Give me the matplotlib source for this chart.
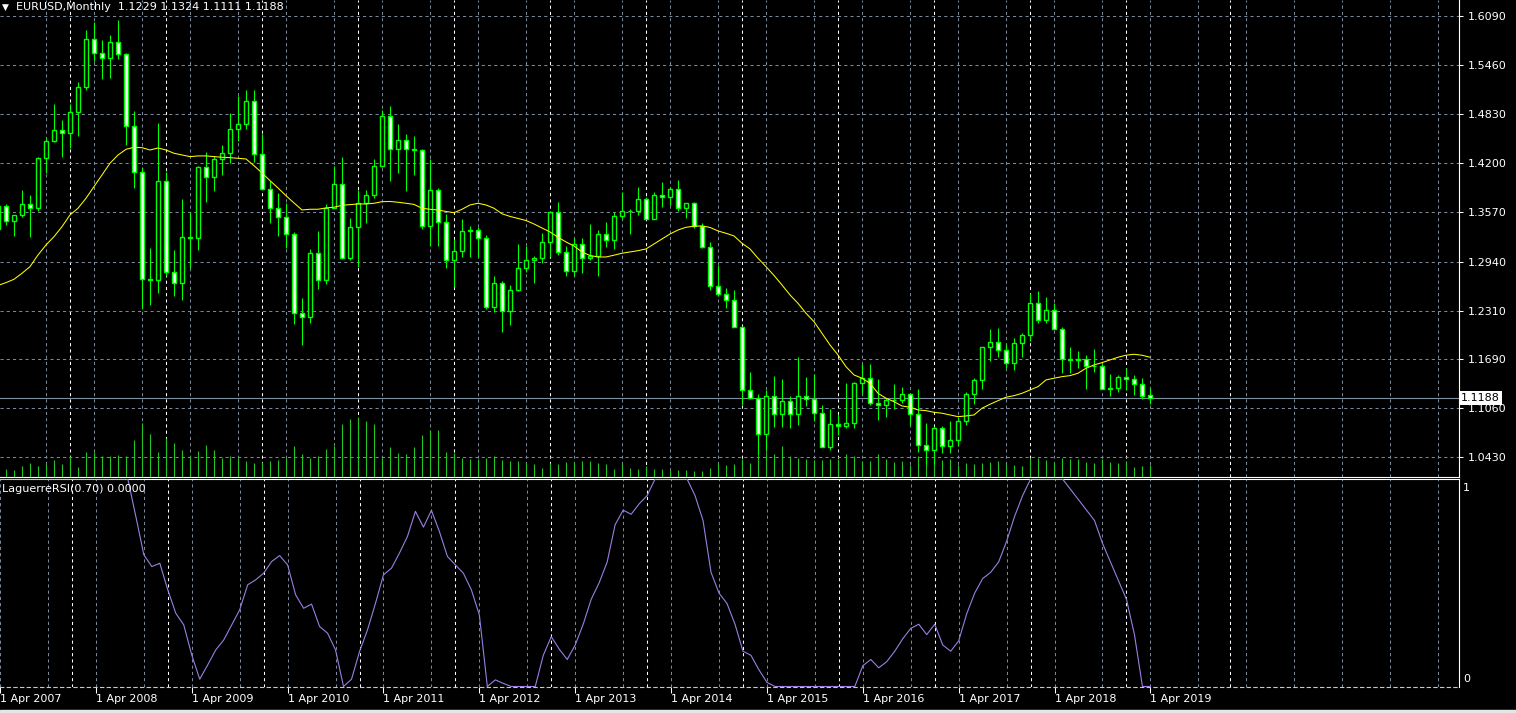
import matplotlib
matplotlib.use("Agg")
import matplotlib.pyplot as plt
from matplotlib.patches import Rectangle

# EURUSD monthly bars, Apr 2007 .. Apr 2019
opens = [1.3355, 1.3650, 1.3455, 1.3540, 1.3680, 1.3630, 1.4265, 1.4490, 1.4630,
         1.4590, 1.4860, 1.5180, 1.5790, 1.5620, 1.5550, 1.5760, 1.5600, 1.4680, 1.4090, 1.2720, 1.2700,
         1.3970, 1.2800, 1.2670, 1.3250, 1.3240, 1.4150, 1.4030, 1.4250, 1.4330, 1.4640, 1.4710, 1.5000,
         1.4320, 1.3870, 1.3630, 1.3510, 1.3290, 1.2280, 1.2230, 1.3050, 1.2700, 1.3630, 1.3930, 1.2990,
         1.3380, 1.3690, 1.3800, 1.4160, 1.4810, 1.4390, 1.4500, 1.4390, 1.4370, 1.3390, 1.3860, 1.3450,
         1.2960, 1.3080, 1.3330, 1.3340, 1.3240, 1.2360, 1.2660, 1.2300, 1.2580, 1.2860, 1.2960, 1.2990,
         1.3190, 1.3580, 1.3060, 1.2820, 1.3170, 1.2990, 1.3010, 1.3300, 1.3220, 1.3520, 1.3590, 1.3590,
         1.3740, 1.3490, 1.3800, 1.3770, 1.3870, 1.3630, 1.3690, 1.3390, 1.3130, 1.2630, 1.2520, 1.2450,
         1.2100, 1.1290, 1.1190, 1.0730, 1.1220, 1.0980, 1.1150, 1.0980, 1.1210, 1.1180, 1.1000, 1.0560,
         1.0860, 1.0830, 1.0870, 1.1380, 1.1450, 1.1130, 1.1100, 1.1170, 1.1160, 1.1240, 1.0980, 1.0590,
         1.0520, 1.0800, 1.0580, 1.0650, 1.0900, 1.1240, 1.1420, 1.1840, 1.1910, 1.1810, 1.1640, 1.1900,
         1.2000, 1.2410, 1.2190, 1.2320, 1.2080, 1.1690, 1.1680, 1.1690, 1.1600, 1.1600, 1.1310, 1.1320,
         1.1460, 1.1440, 1.1370, 1.1229]
highs = [1.3682, 1.3680, 1.3532, 1.3852, 1.3800, 1.4282, 1.4520, 1.4967, 1.4750,
         1.4966, 1.5240, 1.5905, 1.6018, 1.5785, 1.5844, 1.6038, 1.5620, 1.4867, 1.4150, 1.3110, 1.4720,
         1.4090, 1.3090, 1.3740, 1.3580, 1.4170, 1.4340, 1.4300, 1.4440, 1.4840, 1.5065, 1.5145, 1.5140,
         1.4580, 1.3970, 1.3820, 1.3690, 1.3320, 1.2470, 1.3100, 1.3335, 1.3680, 1.4160, 1.4280, 1.3500,
         1.3860, 1.3860, 1.4250, 1.4880, 1.4940, 1.4700, 1.4580, 1.4550, 1.4390, 1.4250, 1.3880, 1.3550,
         1.3230, 1.3490, 1.3390, 1.3380, 1.3280, 1.2750, 1.2690, 1.2640, 1.3170, 1.3140, 1.3010, 1.3310,
         1.3590, 1.3710, 1.3140, 1.3240, 1.3240, 1.3420, 1.3350, 1.3450, 1.3570, 1.3830, 1.3620, 1.3900,
         1.3770, 1.3830, 1.3960, 1.3900, 1.3990, 1.3680, 1.3700, 1.3440, 1.3190, 1.2890, 1.2600, 1.2570,
         1.2110, 1.1530, 1.1240, 1.1290, 1.1470, 1.1430, 1.1210, 1.1710, 1.1460, 1.1500, 1.1100, 1.1050,
         1.0990, 1.1380, 1.1400, 1.1620, 1.1620, 1.1430, 1.1190, 1.1370, 1.1330, 1.1260, 1.1300, 1.0870,
         1.0830, 1.0830, 1.0900, 1.0950, 1.1270, 1.1450, 1.1840, 1.2070, 1.2090, 1.1880, 1.1960, 1.2030,
         1.2540, 1.2560, 1.2480, 1.2410, 1.2100, 1.1850, 1.1790, 1.1740, 1.1820, 1.1620, 1.1500, 1.1480,
         1.1570, 1.1490, 1.1450, 1.1324]
lows = [1.3340, 1.3415, 1.3267, 1.3515, 1.3260, 1.3585, 1.4070, 1.4475, 1.4275,
        1.4400, 1.4555, 1.5145, 1.5510, 1.5285, 1.5300, 1.5535, 1.4430, 1.3880, 1.2330, 1.2385, 1.2540,
        1.2750, 1.2503, 1.2448, 1.2854, 1.3090, 1.3710, 1.3850, 1.4050, 1.4200, 1.4490, 1.4640, 1.4220,
        1.3860, 1.3440, 1.3270, 1.3110, 1.2140, 1.1875, 1.2150, 1.2590, 1.2650, 1.3630, 1.2970, 1.2960,
        1.2870, 1.3440, 1.3750, 1.4150, 1.3970, 1.4070, 1.3840, 1.4050, 1.3360, 1.3140, 1.3140, 1.2860,
        1.2620, 1.3000, 1.3000, 1.2995, 1.2330, 1.2290, 1.2040, 1.2130, 1.2560, 1.2800, 1.2660, 1.2920,
        1.3000, 1.3020, 1.2750, 1.2750, 1.2790, 1.2960, 1.2750, 1.3130, 1.3100, 1.3480, 1.3300, 1.3540,
        1.3480, 1.3480, 1.3640, 1.3670, 1.3590, 1.3500, 1.3370, 1.3120, 1.2570, 1.2500, 1.2350, 1.2100,
        1.1100, 1.1180, 1.0460, 1.0520, 1.0820, 1.0820, 1.0800, 1.0850, 1.1090, 1.0900, 1.0560, 1.0520,
        1.0710, 1.0810, 1.0810, 1.1240, 1.1100, 1.0910, 1.0950, 1.1050, 1.1120, 1.0850, 1.0500, 1.0350,
        1.0340, 1.0490, 1.0490, 1.0570, 1.0840, 1.1110, 1.1310, 1.1660, 1.1720, 1.1570, 1.1550, 1.1720,
        1.1920, 1.2150, 1.2150, 1.2070, 1.1510, 1.1510, 1.1580, 1.1300, 1.1530, 1.1300, 1.1210, 1.1270,
        1.1290, 1.1230, 1.1180, 1.1111]
closes = [1.3650, 1.3455, 1.3540, 1.3680, 1.3630, 1.4265, 1.4490, 1.4630, 1.4590,
          1.4860, 1.5180, 1.5790, 1.5620, 1.5550, 1.5760, 1.5600, 1.4680, 1.4090, 1.2720, 1.2700, 1.3970,
          1.2800, 1.2670, 1.3250, 1.3240, 1.4150, 1.4030, 1.4250, 1.4330, 1.4640, 1.4710, 1.5000, 1.4320,
          1.3870, 1.3630, 1.3510, 1.3290, 1.2280, 1.2230, 1.3050, 1.2700, 1.3630, 1.3930, 1.2990, 1.3380,
          1.3690, 1.3800, 1.4160, 1.4810, 1.4390, 1.4500, 1.4390, 1.4370, 1.3390, 1.3860, 1.3450, 1.2960,
          1.3080, 1.3330, 1.3340, 1.3240, 1.2360, 1.2660, 1.2300, 1.2580, 1.2860, 1.2960, 1.2990, 1.3190,
          1.3580, 1.3060, 1.2820, 1.3170, 1.2990, 1.3010, 1.3300, 1.3220, 1.3520, 1.3590, 1.3590, 1.3740,
          1.3490, 1.3800, 1.3770, 1.3870, 1.3630, 1.3690, 1.3390, 1.3130, 1.2630, 1.2520, 1.2450, 1.2100,
          1.1290, 1.1190, 1.0730, 1.1220, 1.0980, 1.1150, 1.0980, 1.1210, 1.1180, 1.1000, 1.0560, 1.0860,
          1.0830, 1.0870, 1.1380, 1.1450, 1.1130, 1.1100, 1.1170, 1.1160, 1.1240, 1.0980, 1.0590, 1.0520,
          1.0800, 1.0580, 1.0650, 1.0900, 1.1240, 1.1420, 1.1840, 1.1910, 1.1810, 1.1640, 1.1900, 1.2000,
          1.2410, 1.2190, 1.2320, 1.2080, 1.1690, 1.1680, 1.1690, 1.1600, 1.1600, 1.1310, 1.1320, 1.1460,
          1.1440, 1.1370, 1.1220, 1.1188]
# yellow moving average as drawn on the chart
ma = [1.2634, 1.2670, 1.2713, 1.2790, 1.2875, 1.3025, 1.3153, 1.3260, 1.3388,
      1.3538, 1.3624, 1.3752, 1.3901, 1.4051, 1.4201, 1.4307, 1.4380, 1.4406, 1.4401, 1.4371, 1.4397,
      1.4371, 1.4329, 1.4307, 1.4286, 1.4295, 1.4295, 1.4286, 1.4278, 1.4273, 1.4265, 1.4256, 1.4170,
      1.4077, 1.3978, 1.3884, 1.3785, 1.3692, 1.3602, 1.3611, 1.3611, 1.3628, 1.3637, 1.3662, 1.3670,
      1.3679, 1.3679, 1.3688, 1.3708, 1.3711, 1.3701, 1.3688, 1.3673, 1.3624, 1.3611, 1.3602, 1.3583,
      1.3567, 1.3611, 1.3666, 1.3688, 1.3666, 1.3624, 1.3553, 1.3519, 1.3493, 1.3467, 1.3422, 1.3371,
      1.3320, 1.3252, 1.3192, 1.3140, 1.3063, 1.3018, 1.2999, 1.2999, 1.3022, 1.3047, 1.3063, 1.3080,
      1.3102, 1.3166, 1.3230, 1.3294, 1.3345, 1.3380, 1.3393, 1.3397, 1.3378, 1.3333, 1.3303, 1.3269,
      1.3175, 1.3102, 1.2983, 1.2875, 1.2762, 1.2640, 1.2512, 1.2405, 1.2277, 1.2169, 1.2021, 1.1871,
      1.1742, 1.1592, 1.1486, 1.1444, 1.1379, 1.1251, 1.1187, 1.1143, 1.1088, 1.1072, 1.1037, 1.1028,
      1.1007, 1.0995, 1.0973, 1.0951, 1.0960, 1.0973, 1.1059, 1.1110, 1.1156, 1.1200, 1.1220, 1.1251,
      1.1293, 1.1336, 1.1422, 1.1444, 1.1464, 1.1477, 1.1508, 1.1572, 1.1614, 1.1644, 1.1678, 1.1713,
      1.1739, 1.1751, 1.1739, 1.1713]
# tick volume (relative)
volume = [8, 8.3, 7.3, 10.7, 14.3, 10.7, 12.7, 16.7, 12.7,
          20.7, 10, 24.7, 24.7, 20.7, 20.7, 21.7, 20.7, 36.7, 54.3, 42.7, 24.7,
          39.3, 34.3, 26.7, 20.7, 26, 31.7, 26.7, 19, 20.7, 19, 15.7, 14,
          15, 15.7, 16.7, 19, 30.7, 22.7, 19, 20.7, 27.7, 30.7, 52.7, 58.3,
          60, 55.7, 52.7, 19, 29.7, 24, 22.7, 30, 41.7, 46.7, 46.7, 25,
          24, 19.3, 18.3, 18.3, 19.3, 20.7, 16.7, 15.7, 15.7, 14, 12.7, 9,
          14, 12.7, 15, 15, 15.7, 15.7, 14.3, 13.3, 8.3, 12.7, 9.3, 8.3,
          11, 7.7, 8.3, 6.7, 6.7, 6.7, 5.7, 5.7, 9, 14.3, 11.7, 12.7,
          18.3, 14.3, 22, 25, 23.3, 30.7, 20.7, 19, 18.3, 16.7, 16.7, 17.7,
          18.3, 22.7, 20.7, 15.7, 15.7, 23.3, 18.3, 15, 15.7, 12.3, 20.7, 16,
          20.7, 16.7, 17.7, 12.3, 14, 12.7, 14, 15, 15.7, 12.7, 11.7, 10.7,
          19, 19, 16.7, 15, 19, 17.7, 17.7, 15, 14, 17.7, 15, 14,
          15.7, 10, 11, 11.7]
# LaguerreRSI(0.70)
lrsi = [1.0, 1.0, 1.0, 1.0, 1.0, 1.0, 1.0, 1.0, 1.0,
        1.0, 1.0, 1.0, 1.0, 1.0, 1.0, 1.0, 1.0, 0.820, 0.635, 0.578, 0.594,
        0.466, 0.353, 0.297, 0.152, 0.035, 0.104, 0.176, 0.224, 0.297, 0.369, 0.490, 0.514,
        0.546, 0.602, 0.631, 0.586, 0.442, 0.377, 0.397, 0.289, 0.257, 0.176, 0.0, 0.035,
        0.168, 0.273, 0.401, 0.538, 0.570, 0.643, 0.723, 0.844, 0.768, 0.849, 0.747, 0.627,
        0.586, 0.546, 0.466, 0.345, 0.0, 0.032, 0.015, 0.0, 0.0, 0.0, 0.0, 0.15,
        0.24, 0.18, 0.13, 0.20, 0.30, 0.42, 0.50, 0.60, 0.78, 0.85, 0.83, 0.88,
        0.92, 1.0, 1.0, 1.0, 1.0, 1.0, 0.92, 0.80, 0.55, 0.45, 0.40, 0.30,
        0.17, 0.15, 0.08, 0.02, 0.0, 0.0, 0.0, 0.0, 0.0, 0.0, 0.0, 0.0,
        0.0, 0.0, 0.0, 0.10, 0.13, 0.09, 0.12, 0.17, 0.23, 0.28, 0.30, 0.25,
        0.30, 0.20, 0.17, 0.22, 0.35, 0.45, 0.52, 0.55, 0.60, 0.70, 0.82, 0.92,
        1.0, 1.0, 1.0, 1.0, 1.0, 0.95, 0.90, 0.85, 0.80, 0.69, 0.60, 0.51,
        0.42, 0.25, 0.0, 0.0]

price_ticks = [1.6090, 1.5460, 1.4830, 1.4200, 1.3570, 1.2940, 1.2310, 1.1690, 1.1060, 1.0430]
last_price = 1.1188
header = "EURUSD,Monthly  1.1229 1.1324 1.1111 1.1188"

W, H = 1516, 713
n = len(closes)
idx = list(range(n))
years = [2007 + (3 + i) // 12 for i in idx]
mons = [(3 + i) % 12 + 1 for i in idx]

LIME = "#00FF00"
GRID = "#7A8797"
plt.rcParams["font.family"] = ["DejaVu Sans"]

fig = plt.figure(figsize=(W / 100, H / 100), dpi=100, facecolor="black")
ax = fig.add_axes([0, 1 - 477 / H, 1459 / W, 477 / H], facecolor="black")
ar = fig.add_axes([0, 1 - 687 / H, 1459 / W, 208 / H], facecolor="black")

xlim = (0.25, 182.625)
grid6 = list(range(0, 183, 6))
jan = [i for i in idx if mons[i] == 1] + [154]
for a in (ax, ar):
    a.set_xlim(*xlim)
    for g in grid6:
        a.axvline(g, color=GRID, lw=0.75, ls=(0, (3, 3)), zorder=0)
    for g in jan:
        a.axvline(g, color="white", lw=0.75, ls=(0, (3, 3)), zorder=0)
    for s in ("left", "top"):
        a.spines[s].set_visible(False)
    a.spines["right"].set_color("white")
    a.spines["bottom"].set_color("white")

# price panel
ax.set_ylim(1.0177, 1.6295)
for p in price_ticks:
    ax.axhline(p, color=GRID, lw=0.75, ls=(0, (3, 3)), zorder=0)
ax.vlines(idx, 0, [v / 477 for v in volume], transform=ax.get_xaxis_transform(),
          color="#22C422", lw=0.8, zorder=1)
ax.axhline(last_price, color="#8090A0", lw=0.8, zorder=1)
ax.vlines(idx, lows, highs, color=LIME, lw=0.8, zorder=2)
body_lo = [min(o, c) for o, c in zip(opens, closes)]
body_h = [abs(c - o) for o, c in zip(opens, closes)]
face = ["white" if c < o else "black" for o, c in zip(opens, closes)]
ax.bar(idx, body_h, bottom=body_lo, width=0.56, color=face, edgecolor=LIME, lw=1, zorder=3)
ax.plot(idx, ma, color="yellow", lw=0.75, zorder=4)
ax.spines["top"].set_visible(False)
ax.set_xticks([])
ax.yaxis.tick_right()
ax.set_yticks(price_ticks)
ax.set_yticklabels(["%.4f" % p for p in price_ticks])
ax.tick_params(axis="y", colors="white", labelcolor="white", length=3, width=0.75,
               labelsize=8, pad=3)
ax.text(1.0015, last_price, "%.4f" % last_price, transform=ax.get_yaxis_transform(),
        color="black", fontsize=8, va="center", ha="left", zorder=10, clip_on=False,
        bbox=dict(boxstyle="square,pad=0.2", fc="white", ec="none"))

# LaguerreRSI panel
ar.set_ylim(-0.0025, 1.0)
ar.plot(idx, lrsi, color="#9A7FE0", lw=0.8, zorder=3)
ar.spines["top"].set_visible(True)
ar.spines["top"].set_color("white")
ar.spines["bottom"].set_linestyle((0, (3, 3)))
ar.spines["bottom"].set_color("#C8C8C8")
ar.set_yticks([])
apr = [i for i in idx if mons[i] == 4]
ar.set_xticks(apr)
ar.set_xticklabels(["1 Apr %d" % years[i] for i in apr], ha="left")
ar.tick_params(axis="x", colors="white", labelcolor="white", length=4, width=0.75,
               labelsize=8, pad=1)

fig.text(1463 / W, 1 - 488 / H, "1", color="white", fontsize=8, va="center")
fig.text(1463 / W, 1 - 679 / H, "0", color="white", fontsize=8, va="center")
fig.text(2 / W, 1 - 489 / H, "LaguerreRSI(0.70) 0.0000", color="white", fontsize=8, va="center")
fig.text(2 / W, 1 - 7 / H, "\u25bc", color="white", fontsize=6.5, va="center")
fig.text(16 / W, 1 - 7 / H, header, color="white", fontsize=8, va="center")
fig.add_artist(Rectangle((0, 0), 1, 3 / H, transform=fig.transFigure, color="#E6E6E6"))

fig.savefig("out.png", dpi=100, facecolor="black")
